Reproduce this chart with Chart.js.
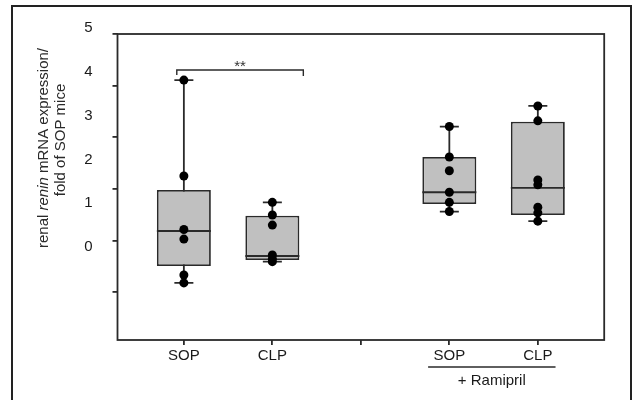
<!DOCTYPE html>
<html>
<head>
<meta charset="utf-8">
<script src="https://cdn.jsdelivr.net/npm/chart.js@4.4.1/dist/chart.umd.min.js"></script>
<style>
html,body{margin:0;padding:0;background:#fff;overflow:hidden;}
#wrap{position:relative;width:633px;height:400px;}
#frame{position:absolute;left:11px;top:5px;width:617px;height:400px;border:2px solid #222;border-bottom:none;}
canvas{position:absolute;left:0;top:0;}
</style>
</head>
<body>
<div id="wrap"><div id="frame"></div><canvas id="c" width="633" height="400"></canvas></div>
<script>
// ---- data ----
const categories = ['SOP', 'CLP', 'SOP', 'CLP'];
const groupPos = [1, 2, 4, 5];
const xTickValues = [1, 2, 3, 4, 5];
const xTickLabels = ['SOP', 'CLP', '', 'SOP', 'CLP'];
const whiskerMin = [-0.82, -0.335, 0.81, 0.59];
const q1 = [-0.434, -0.297, 0.98, 0.73];
const median = [0.365, -0.205, 1.25, 1.35];
const q3 = [1.30, 0.715, 2.055, 2.86];
const whiskerMax = [3.81, 1.02, 2.75, 3.22];
const pointsSOP = [3.81, 1.62, 0.40, 0.18, -0.64, -0.82];
const pointsCLP = [1.02, 0.73, 0.50, -0.18, -0.27, -0.335];
const pointsSOPRamipril = [2.75, 2.055, 1.74, 1.25, 1.02, 0.81];
const pointsCLPRamipril = [3.22, 2.88, 1.53, 1.42, 0.91, 0.78, 0.59];
const groupPoints = [pointsSOP, pointsCLP, pointsSOPRamipril, pointsCLPRamipril];
const yTickLabels = [0, 1, 2, 3, 4, 5];
const yTickMarks = [-1, 0, 1, 2, 3, 4];
const yTitleLine1 = [['renal ', false], ['renin', true], [' mRNA expression/', false]];
const yTitleLine2 = 'fold of SOP mice';
const sigFrom = 0.92, sigTo = 2.35, sigLevel = 4.04, sigText = '**';
const treatmentFrom = 3.76, treatmentTo = 5.20, treatmentText = '+ Ramipril';

// ---- chart ----
const FONT = '"Liberation Sans", Arial, sans-serif';
const INK = '#2a2a2a';
const LW = 1.8;

const whiskerSets = groupPos.map((x, i) => ({
  type: 'line',
  data: [{x: x, y: whiskerMin[i]}, {x: x, y: whiskerMax[i]}],
  borderColor: INK, borderWidth: LW, pointRadius: 0, order: 4
}));

const pointData = [];
groupPos.forEach((x, i) => groupPoints[i].forEach(v => pointData.push({x: x, y: v})));

const capData = [];
groupPos.forEach((x, i) => { capData.push({x: x, y: whiskerMax[i]}); capData.push({x: x, y: whiskerMin[i]}); });

const annot = {
  id: 'annot',
  afterDraw(chart) {
    const ctx = chart.ctx, xs = chart.scales.x, ys = chart.scales.y, ca = chart.chartArea;
    ctx.save();
    // plot frame
    ctx.strokeStyle = INK; ctx.lineWidth = LW;
    ctx.strokeRect(ca.left, ca.top, ca.right - ca.left, ca.bottom - ca.top);
    // significance bracket
    const bx1 = xs.getPixelForValue(sigFrom), bx2 = xs.getPixelForValue(sigTo), by = ys.getPixelForValue(sigLevel);
    ctx.lineWidth = 1.4;
    ctx.beginPath();
    ctx.moveTo(bx1, by + 5); ctx.lineTo(bx1, by); ctx.lineTo(bx2, by); ctx.lineTo(bx2, by + 6);
    ctx.stroke();
    ctx.fillStyle = '#333';
    ctx.font = '15px ' + FONT;
    ctx.textAlign = 'center'; ctx.textBaseline = 'alphabetic';
    ctx.fillText(sigText, (bx1 + bx2) / 2, by + 1);
    // treatment underline + label
    const tx1 = xs.getPixelForValue(treatmentFrom), tx2 = xs.getPixelForValue(treatmentTo);
    ctx.strokeStyle = INK; ctx.lineWidth = 1.5;
    ctx.beginPath(); ctx.moveTo(tx1, ca.bottom + 27); ctx.lineTo(tx2, ca.bottom + 27); ctx.stroke();
    ctx.fillStyle = '#1a1a1a';
    ctx.font = '15px ' + FONT;
    ctx.textBaseline = 'middle';
    ctx.fillText(treatmentText, (tx1 + tx2) / 2, ca.bottom + 41);
    // y title (rotated, with italic word)
    ctx.fillStyle = '#2a2a2a';
    ctx.save();
    ctx.translate(44, 148); ctx.rotate(-Math.PI / 2);
    let total = 0;
    yTitleLine1.forEach(([t, it]) => { ctx.font = (it ? 'italic ' : '') + '15px ' + FONT; total += ctx.measureText(t).width; });
    let px = -total / 2;
    ctx.textAlign = 'left';
    yTitleLine1.forEach(([t, it]) => { ctx.font = (it ? 'italic ' : '') + '15px ' + FONT; ctx.fillText(t, px, 0); px += ctx.measureText(t).width; });
    ctx.restore();
    ctx.save();
    ctx.translate(61, 140); ctx.rotate(-Math.PI / 2);
    ctx.font = '15px ' + FONT; ctx.textAlign = 'center'; ctx.textBaseline = 'middle';
    ctx.fillText(yTitleLine2, 0, 0);
    ctx.restore();
    ctx.restore();
  }
};

new Chart(document.getElementById('c'), {
  type: 'bar',
  data: {
    datasets: [
      {
        type: 'bar',
        data: groupPos.map((x, i) => ({x: x, y: [q1[i], q3[i]]})),
        backgroundColor: '#c0c0c0', borderColor: INK, borderWidth: LW, borderSkipped: false,
        barPercentage: 0.61, categoryPercentage: 1, order: 3
      },
      ...whiskerSets,
      {
        type: 'scatter',
        data: groupPos.map((x, i) => ({x: x, y: median[i]})),
        pointStyle: 'line', pointRadius: 27, borderColor: INK, borderWidth: LW, order: 2
      },
      {
        type: 'scatter',
        data: capData,
        pointStyle: 'line', pointRadius: 9.5, borderColor: INK, borderWidth: LW, order: 1
      },
      {
        type: 'scatter',
        data: pointData,
        pointStyle: 'circle', pointRadius: 4.5, backgroundColor: '#000', borderWidth: 0, order: 0
      }
    ]
  },
  options: {
    responsive: false,
    animation: false,
    devicePixelRatio: 1,
    events: [],
    layout: { padding: { left: 72.5, right: 26, top: 34, bottom: 30 } },
    plugins: { legend: { display: false }, tooltip: { enabled: false } },
    scales: {
      x: {
        type: 'linear', position: 'bottom', min: 0.25, max: 5.75, offset: false,
        afterBuildTicks: s => { s.ticks = xTickValues.map(v => ({value: v})); },
        afterFit: s => { s.height = 30; },
        ticks: {
          autoSkip: false, maxRotation: 0, padding: 2, color: '#1a1a1a',
          font: { family: FONT, size: 15 },
          callback: v => { const k = xTickValues.indexOf(v); return k >= 0 ? xTickLabels[k] : ''; }
        },
        grid: { offset: false, drawOnChartArea: false, drawTicks: true, tickLength: 5, color: INK, lineWidth: LW },
        border: { display: false }
      },
      y: { type: 'linear', display: false, min: -2.123, max: 4.863 },
      yt: {
        type: 'linear', axis: 'y', position: 'left', weight: 0, min: -1.93, max: 4,
        afterBuildTicks: s => { s.ticks = yTickMarks.map(v => ({value: v})); },
        afterFit: s => { s.width = 5; },
        ticks: { display: false },
        grid: { drawOnChartArea: false, drawTicks: true, tickLength: 5, color: INK, lineWidth: LW },
        border: { display: false }
      },
      yl: {
        type: 'linear', axis: 'y', position: 'left', weight: 1, min: -1.986, max: 5,
        afterBuildTicks: s => { s.ticks = yTickLabels.map(v => ({value: v})); },
        afterFit: s => { s.width = 40; },
        ticks: { autoSkip: false, labelOffset: -6, padding: 20, color: '#1a1a1a', font: { family: FONT, size: 15 } },
        grid: { display: false, drawTicks: false, drawOnChartArea: false },
        border: { display: false }
      }
    }
  },
  plugins: [annot]
});
</script>
</body>
</html>
